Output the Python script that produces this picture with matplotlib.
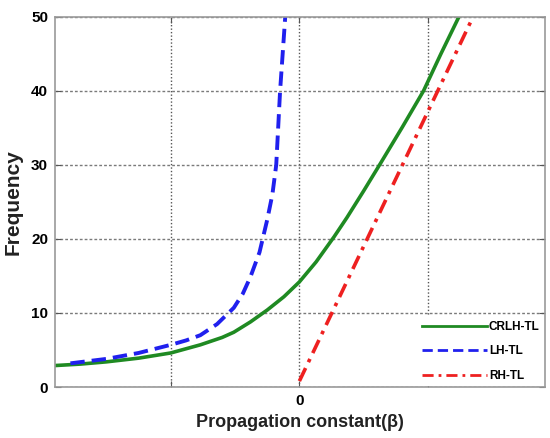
import matplotlib
matplotlib.use("Agg")
import matplotlib.pyplot as plt

plt.rcParams['font.family'] = ['Liberation Sans', 'DejaVu Sans']
plt.rcParams['font.weight'] = 'bold'

# values (beta in grid units, grid at -1, 0, 1)
beta_crlh = [-1.90, -1.70, -1.50, -1.25, -1.00, -0.77, -0.60, -0.51, -0.38, -0.25,
             -0.12, 0.00, 0.13, 0.27, 0.37, 0.50, 0.63, 0.80, 0.965, 1.10, 1.24]
f_crlh = [2.9, 3.1, 3.4, 3.9, 4.6, 5.7, 6.7, 7.4, 8.8, 10.4,
          12.2, 14.2, 16.9, 20.3, 22.9, 26.5, 30.2, 35.1, 40.0, 45.0, 50.0]

beta_lh = [-1.78, -1.50, -1.25, -1.00, -0.88, -0.77, -0.64, -0.51, -0.44, -0.38,
           -0.31, -0.25, -0.21, -0.18, -0.15, -0.13, -0.11]
f_lh = [3.2, 3.8, 4.6, 5.7, 6.3, 7.0, 8.5, 10.7, 12.6, 14.9,
        18.2, 22.6, 26.0, 30.0, 40.0, 45.0, 50.0]

beta_rh = [0.0, 1.35]
f_rh = [0.8, 50.0]

series_labels = ['CRLH-TL', 'LH-TL', 'RH-TL']

fig = plt.figure(figsize=(5.5, 4.38), dpi=100)
ax = fig.add_axes([0.1, 0.1164, 0.891, 0.845])
ax.set_axisbelow(True)

ax.plot(beta_crlh, f_crlh, color='#1f8a22', lw=2.6, label=series_labels[0])
ax.plot(beta_lh, f_lh, color='#2020ee', lw=2.8, ls=(0, (3.7, 1.8)), label=series_labels[1])
ax.plot(beta_rh, f_rh, color='#ee2020', lw=2.6, ls=(0, (4, 1.8, 1, 1.8)), label=series_labels[2])

ax.set_xlim(-1.90, 1.91)
ax.set_ylim(0, 50)
ax.set_xticks([-1, 0, 1])
ax.set_xticklabels(['', '0', ''])
ax.set_yticks([0, 10, 20, 30, 40, 50])
ax.tick_params(direction='in', top=True, right=True, labelsize=11, length=4,
               color='#555555', pad=5)
for lab in ax.get_xticklabels() + ax.get_yticklabels():
    lab.set_fontweight('bold')
for sp in ax.spines.values():
    sp.set_color('#999999')
    sp.set_linewidth(1.2)
ax.grid(True, axis='x', ls=(0, (1, 1.5)), color='#555555', lw=1.0)
ax.grid(True, axis='y', ls=(0, (2, 1.5)), color='#7a7a7a', lw=1.0)

ax.set_xlabel('Propagation constant(β)', fontsize=13, fontweight='bold', color='#222222')
ax.set_ylabel('Frequency', fontsize=15, fontweight='bold', color='#222222', labelpad=6)

leg = ax.legend(loc='lower right', prop={'size': 8.5, 'weight': 'bold'}, handlelength=5.5,
                frameon=True, fancybox=False, framealpha=1, borderaxespad=0.05,
                labelspacing=1.05, handletextpad=0.2)
leg.get_frame().set_edgecolor('none')
for line in leg.get_lines():
    line.set_linewidth(2.0)

fig.savefig('out.png', dpi=100)
